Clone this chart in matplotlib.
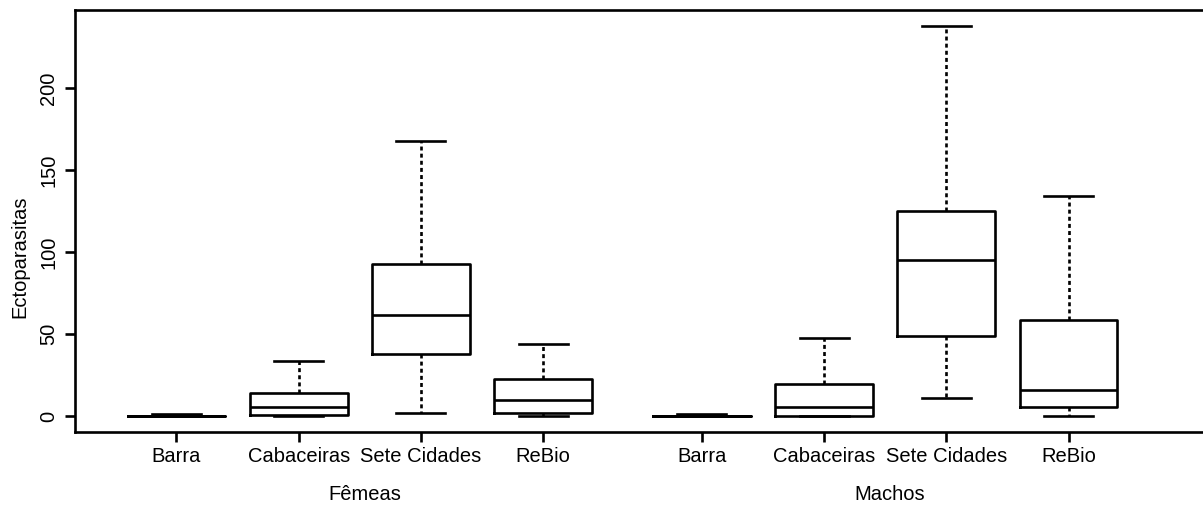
import matplotlib
matplotlib.use("Agg")
from matplotlib import pyplot as plt
from matplotlib import transforms

plt.rcParams['font.family'] = ['Liberation Sans', 'DejaVu Sans']

# Sites and sex groups
sites = ["Barra", "Cabaceiras", "Sete Cidades", "ReBio"]
groups = ["Fêmeas", "Machos"]

# Five-number summaries of ectoparasite counts (females)
femeas_min = [0, 0, 2, 0]
femeas_q1 = [0, 1, 38, 2]
femeas_med = [0, 6, 62, 10]
femeas_q3 = [0, 14, 93, 23]
femeas_max = [1.5, 34, 168, 44]

# Five-number summaries of ectoparasite counts (males)
machos_min = [0, 0, 11, 0]
machos_q1 = [0, 0, 49, 6]
machos_med = [0, 6, 95, 16]
machos_q3 = [0, 20, 125, 59]
machos_max = [1.5, 48, 238, 134]

# box positions: two blocks of four, small gap between sexes
pos_f = [1, 2, 3, 4]
pos_m = [5.3, 6.3, 7.3, 8.3]


def make_stats(lo, q1, med, q3, hi):
    return [dict(whislo=a, q1=b, med=c, q3=d, whishi=e, fliers=[])
            for a, b, c, d, e in zip(lo, q1, med, q3, hi)]


stats = (make_stats(femeas_min, femeas_q1, femeas_med, femeas_q3, femeas_max)
         + make_stats(machos_min, machos_q1, machos_med, machos_q3, machos_max))
positions = pos_f + pos_m

fig = plt.figure(figsize=(12.03, 5.07), dpi=100)
ax = fig.add_axes([75 / 1203, 1 - 432 / 507, 1 - 75 / 1203, (432 - 10) / 507])

lw = 1.9
fs = 14.5
ax.bxp(stats, positions=positions, widths=0.8, capwidths=0.4, showfliers=False,
       boxprops=dict(color="black", linewidth=lw),
       medianprops=dict(color="black", linewidth=lw),
       whiskerprops=dict(color="black", linewidth=lw, linestyle=(0, (1.5, 1.2))),
       capprops=dict(color="black", linewidth=lw))

ax.set_xlim(0.17, 9.40)
ax.set_ylim(-9.52, 247.52)
ax.set_yticks([0, 50, 100, 150, 200])
ax.set_xticks(positions)
ax.set_xticklabels(sites * 2)

for side in ["left", "bottom", "top"]:
    ax.spines[side].set_linewidth(lw)
ax.spines["right"].set_visible(False)

ax.tick_params(axis="both", direction="out", length=7, width=lw, labelsize=fs)
ax.tick_params(axis="x", pad=4)
ax.tick_params(axis="y", pad=5)
for lab in ax.get_yticklabels():
    lab.set_rotation(90)
    lab.set_va("center")

ax.set_ylabel("Ectoparasitas", fontsize=fs)
ax.yaxis.label.set_va("center")
ax.yaxis.set_label_coords(-0.0488, 0.415)

# group labels under the site names
trans = transforms.blended_transform_factory(ax.transData, ax.transAxes)
for name, pos in zip(groups, [pos_f, pos_m]):
    ax.text(sum(pos) / len(pos) + 0.04, -0.149, name, transform=trans,
            ha="center", va="center", fontsize=fs)

fig.savefig("out.png", dpi=100)
